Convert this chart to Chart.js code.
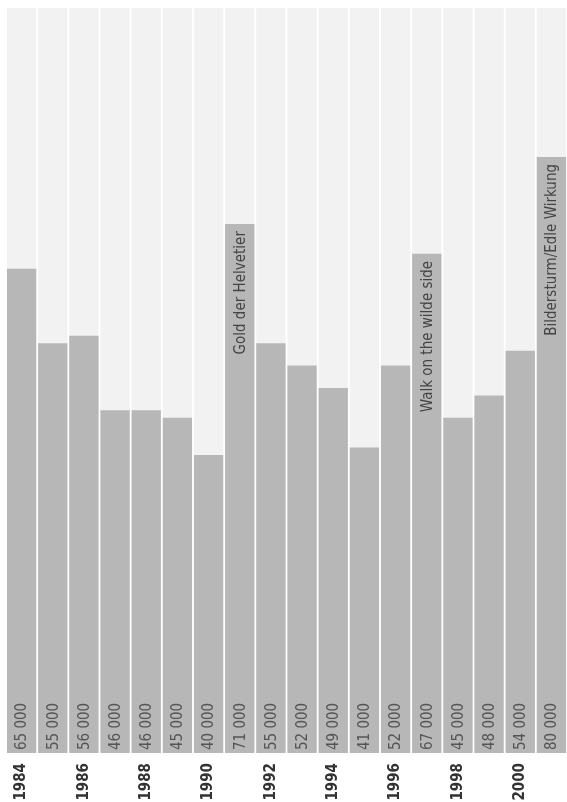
<!DOCTYPE html>
<html>
<head>
<meta charset="utf-8">
<script src="https://cdn.jsdelivr.net/npm/chart.js@4"></script>
<style>
  html, body { margin: 0; padding: 0; background: #ffffff; }
  #wrap { width: 567px; height: 802px; position: relative; }
</style>
</head>
<body>
<div id="wrap"><canvas id="c" width="567" height="802"></canvas></div>
<script>
const years = ['1984','1985','1986','1987','1988','1989','1990','1991','1992','1993','1994','1995','1996','1997','1998','1999','2000','2001'];
const visitors = [65000,55000,56000,46000,46000,45000,40000,71000,55000,52000,49000,41000,52000,67000,45000,48000,54000,80000];
const valueLabels = ['65 000','55 000','56 000','46 000','46 000','45 000','40 000','71 000','55 000','52 000','49 000','41 000','52 000','67 000','45 000','48 000','54 000','80 000'];
const exhibitions = ['','','','','','','','Gold der Helvetier','','','','','','Walk on the wilde side','','','','Bildersturm/Edle Wirkung'];
const yMax = 100000;
const backdrop = years.map(() => yMax);

const FONT = '"DejaVu Sans Condensed", "DejaVu Sans", sans-serif';

const labelPlugin = {
  id: 'barLabels',
  afterDatasetsDraw(chart) {
    const meta = chart.getDatasetMeta(1);
    const ctx = chart.ctx;
    ctx.save();
    meta.data.forEach((bar, i) => {
      ctx.save();
      ctx.translate(bar.x + 1, bar.base - 3);
      ctx.rotate(-Math.PI / 2);
      ctx.font = '15px ' + FONT;
      ctx.fillStyle = '#555555';
      ctx.textAlign = 'left';
      ctx.textBaseline = 'middle';
      ctx.fillText(valueLabels[i], 0, 0);
      ctx.restore();
      if (exhibitions[i]) {
        ctx.save();
        ctx.translate(bar.x + 1, bar.y + 7);
        ctx.rotate(-Math.PI / 2);
        ctx.font = '15px ' + FONT;
        ctx.fillStyle = '#444444';
        ctx.textAlign = 'right';
        ctx.textBaseline = 'middle';
        ctx.fillText(exhibitions[i], 0, 0);
        ctx.restore();
      }
    });
    ctx.restore();
  }
};

new Chart(document.getElementById('c'), {
  type: 'bar',
  data: {
    labels: years,
    datasets: [
      {
        label: 'backdrop',
        data: backdrop,
        backgroundColor: '#f2f2f2',
        borderWidth: 0,
        grouped: false,
        order: 2,
        categoryPercentage: 1,
        barPercentage: 0.94
      },
      {
        label: 'Besucher',
        data: visitors,
        backgroundColor: '#b7b7b7',
        borderWidth: 0,
        grouped: false,
        order: 1,
        categoryPercentage: 1,
        barPercentage: 0.94
      }
    ]
  },
  options: {
    responsive: false,
    animation: false,
    events: [],
    layout: { padding: { left: 6, right: 0, top: 8, bottom: 0 } },
    plugins: { legend: { display: false }, tooltip: { enabled: false } },
    scales: {
      x: {
        grid: { display: false, drawTicks: false },
        border: { display: false },
        ticks: {
          autoSkip: false,
          minRotation: 90,
          maxRotation: 90,
          padding: 10,
          color: '#333333',
          font: { family: FONT, size: 15, weight: 'bold' },
          callback: function(v, i) { return (parseInt(years[i]) % 2 === 0) ? years[i] : ''; }
        },
        afterFit(scale) { scale.height = 49; scale.paddingLeft = 0; scale.paddingRight = 0; }
      },
      y: {
        display: false,
        min: 0,
        max: yMax
      }
    }
  },
  plugins: [labelPlugin]
});
</script>
</body>
</html>
